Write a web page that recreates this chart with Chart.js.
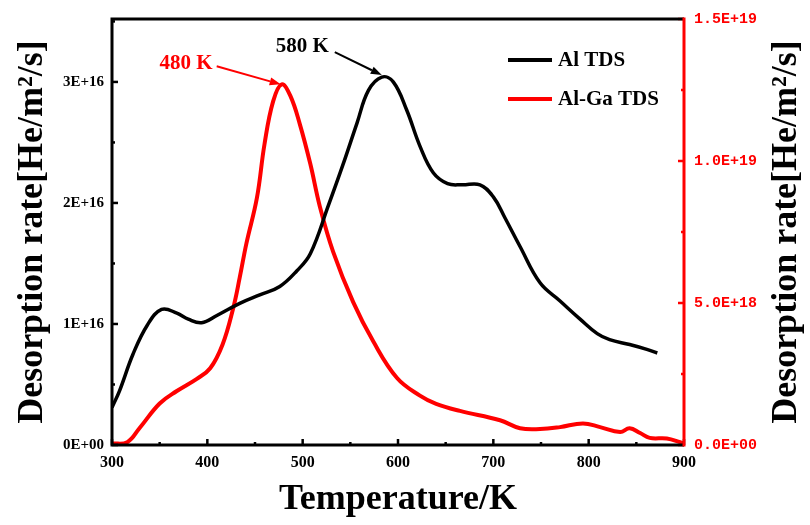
<!DOCTYPE html>
<html>
<head>
<meta charset="utf-8">
<script src="https://cdn.jsdelivr.net/npm/chart.js@4.4.1/dist/chart.umd.min.js"></script>
<style>
  html, body { margin: 0; padding: 0; background: #fff; }
  #wrap { width: 810px; height: 525px; position: relative; }
</style>
</head>
<body>
<div id="wrap"><canvas id="tdsChart"></canvas></div>
<script>
// temperatures (K) and desorption rates
const alTemp = [300, 308, 322, 337, 352, 368, 380, 394, 410, 434, 455, 476, 494, 508, 527, 542, 557, 569, 583, 595, 609, 623, 637, 652, 667, 686, 700, 712, 728, 749, 770, 791, 809, 822, 843, 861, 872];
const alRate = [0.31e16, 0.45e16, 0.75e16, 0.99e16, 1.12e16, 1.09e16, 1.04e16, 1.01e16, 1.07e16, 1.17e16, 1.24e16, 1.31e16, 1.44e16, 1.58e16, 1.98e16, 2.31e16, 2.66e16, 2.93e16, 3.04e16, 3.0e16, 2.77e16, 2.47e16, 2.25e16, 2.16e16, 2.15e16, 2.15e16, 2.05e16, 1.88e16, 1.64e16, 1.34e16, 1.19e16, 1.04e16, 0.92e16, 0.87e16, 0.83e16, 0.79e16, 0.76e16];

const gaTemp = [300, 316, 329, 350, 368, 389, 403, 416, 427, 434, 441, 452, 460, 469, 478, 487, 497, 508, 518, 532, 553, 574, 599, 623, 640, 665, 707, 728, 749, 770, 794, 812, 833, 843, 854, 864, 882, 896, 900];
const gaRate = [0.05e18, 0.1e18, 0.6e18, 1.46e18, 1.9e18, 2.33e18, 2.7e18, 3.54e18, 4.8e18, 5.9e18, 7.1e18, 8.7e18, 10.6e18, 12.1e18, 12.7e18, 12.3e18, 11.3e18, 9.9e18, 8.4e18, 6.8e18, 5.03e18, 3.65e18, 2.36e18, 1.74e18, 1.45e18, 1.2e18, 0.87e18, 0.59e18, 0.56e18, 0.63e18, 0.76e18, 0.63e18, 0.46e18, 0.59e18, 0.42e18, 0.25e18, 0.23e18, 0.1e18, 0.05e18];

const tempTicks = [300, 400, 500, 600, 700, 800, 900];
const leftTicks = [0, 1e16, 2e16, 3e16];
const rightTicks = [0, 5e18, 1e19, 1.5e19];
const seriesNames = ['Al TDS', 'Al-Ga TDS'];
const peakLabels = ['580 K', '480 K'];
const yTitle = 'Desorption rate[He/m²/s]';

const RED = '#ff0000';
const SERIF = '"Liberation Serif", "Times New Roman", serif';

function leftLabel(v) {
    if (v === 0) return '0E+00';
    return Math.round(v / 1e16) + 'E+16';
}

function rightLabel(v) {
    if (v === 0) return '0.0E+00';
    const e = Math.floor(Math.log10(v) + 1e-9);
    return (v / Math.pow(10, e)).toFixed(1) + 'E+' + e;
}

function keepTicks(list) {
    return (scale) => {
        scale.ticks = list.map(v => ({ value: v }));
    };
}

// frame, inward ticks, right title, peak arrows and legend
const decorPlugin = {
    id: 'decor',
    afterDatasetsDraw(chart) {
        const { ctx, chartArea: a, scales } = chart;
        const x = scales.x, yL = scales.y, yR = scales.y1;
        ctx.save();
        ctx.lineCap = 'butt';

        // ticks
        ctx.lineWidth = 2.5;
        ctx.strokeStyle = '#000';
        for (let t = 300; t <= 900; t += 50) {
            const px = x.getPixelForValue(t);
            const len = t % 100 === 0 ? 6 : 3;
            ctx.beginPath(); ctx.moveTo(px, a.bottom); ctx.lineTo(px, a.bottom - len); ctx.stroke();
        }
        for (let v = 0; v <= 3.5e16; v += 0.5e16) {
            const py = yL.getPixelForValue(v);
            const len = Math.round(v / 0.5e16) % 2 === 0 ? 6 : 3;
            ctx.beginPath(); ctx.moveTo(a.left, py); ctx.lineTo(a.left + len, py); ctx.stroke();
        }
        ctx.strokeStyle = RED;
        for (let v = 0; v <= 1.5e19; v += 2.5e18) {
            const py = yR.getPixelForValue(v);
            const len = Math.round(v / 2.5e18) % 2 === 0 ? 6 : 3;
            ctx.beginPath(); ctx.moveTo(a.right, py); ctx.lineTo(a.right - len, py); ctx.stroke();
        }

        // frame
        ctx.lineWidth = 3;
        ctx.strokeStyle = '#000';
        ctx.beginPath();
        ctx.moveTo(a.right, a.top); ctx.lineTo(a.left, a.top);
        ctx.lineTo(a.left, a.bottom); ctx.lineTo(a.right, a.bottom);
        ctx.stroke();
        ctx.strokeStyle = RED;
        ctx.beginPath(); ctx.moveTo(a.right, a.top - 1.5); ctx.lineTo(a.right, a.bottom + 1.5); ctx.stroke();

        // right axis title, reading bottom to top like the left one
        ctx.save();
        ctx.translate(787, (a.top + a.bottom) / 2);
        ctx.rotate(-Math.PI / 2);
        ctx.font = 'bold 36px ' + SERIF;
        ctx.fillStyle = '#000';
        ctx.textAlign = 'center';
        ctx.textBaseline = 'middle';
        ctx.fillText(yTitle, 0, 0);
        ctx.restore();

        // peak arrows
        function arrow(x0, y0, x1, y1, color) {
            const ang = Math.atan2(y1 - y0, x1 - x0);
            const hl = 11, hw = 4;
            ctx.strokeStyle = color; ctx.fillStyle = color; ctx.lineWidth = 2;
            ctx.beginPath(); ctx.moveTo(x0, y0);
            ctx.lineTo(x1 - hl * Math.cos(ang), y1 - hl * Math.sin(ang)); ctx.stroke();
            ctx.beginPath();
            ctx.moveTo(x1, y1);
            ctx.lineTo(x1 - hl * Math.cos(ang) + hw * Math.sin(ang), y1 - hl * Math.sin(ang) - hw * Math.cos(ang));
            ctx.lineTo(x1 - hl * Math.cos(ang) - hw * Math.sin(ang), y1 - hl * Math.sin(ang) + hw * Math.cos(ang));
            ctx.closePath(); ctx.fill();
        }
        const alPx = x.getPixelForValue(583), alPy = yL.getPixelForValue(3.04e16);
        const gaPx = x.getPixelForValue(478), gaPy = yR.getPixelForValue(12.7e18);
        arrow(alPx - 47, alPy - 25, alPx, alPy - 2, '#000');
        arrow(gaPx - 65, gaPy - 18, gaPx - 1, gaPy, RED);

        ctx.font = 'bold 21px ' + SERIF;
        ctx.textBaseline = 'middle';
        ctx.textAlign = 'right';
        ctx.fillStyle = '#000';
        ctx.fillText(peakLabels[0], alPx - 53, alPy - 31);
        ctx.fillStyle = RED;
        ctx.fillText(peakLabels[1], gaPx - 69, gaPy - 21);

        // legend
        const lx = 508, ly = [60, 99], cols = ['#000', RED];
        ctx.textAlign = 'left';
        ctx.lineWidth = 4;
        seriesNames.forEach((name, i) => {
            ctx.strokeStyle = cols[i];
            ctx.beginPath(); ctx.moveTo(lx, ly[i]); ctx.lineTo(lx + 44, ly[i]); ctx.stroke();
            ctx.fillStyle = '#000';
            ctx.fillText(name, lx + 50, ly[i] + 1);
        });
        ctx.restore();
    }
};

const ctx = document.getElementById('tdsChart').getContext('2d');

new Chart(ctx, {
    type: 'line',
    data: {
        datasets: [
            {
                label: seriesNames[0],
                data: alTemp.map((t, i) => ({ x: t, y: alRate[i] })),
                borderColor: '#000',
                borderWidth: 3.5,
                pointRadius: 0,
                tension: 0.4,
                yAxisID: 'y'
            },
            {
                label: seriesNames[1],
                data: gaTemp.map((t, i) => ({ x: t, y: gaRate[i] })),
                borderColor: RED,
                borderWidth: 4,
                pointRadius: 0,
                tension: 0.4,
                yAxisID: 'y1'
            }
        ]
    },
    options: {
        responsive: true,
        maintainAspectRatio: false,
        animation: false,
        layout: { padding: { top: 13, left: 0, right: 0, bottom: 0 } },
        plugins: {
            legend: { display: false },
            tooltip: { enabled: false }
        },
        scales: {
            x: {
                type: 'linear',
                min: 300,
                max: 900,
                afterBuildTicks: keepTicks(tempTicks),
                afterFit: (s) => { s.height = 80; },
                grid: { display: false, drawTicks: false },
                border: { display: false },
                ticks: { padding: 8, color: '#000', font: { family: SERIF, size: 16, weight: 'bold' }, maxRotation: 0 },
                title: {
                    display: true,
                    text: 'Temperature/K',
                    color: '#000',
                    font: { family: SERIF, size: 36, weight: 'bold' },
                    padding: { top: 0, bottom: 4 }
                }
            },
            y: {
                type: 'linear',
                position: 'left',
                min: 0,
                max: 3.52e16,
                afterBuildTicks: keepTicks(leftTicks),
                afterFit: (s) => { s.width = 112; },
                grid: { display: false, drawTicks: false },
                border: { display: false },
                ticks: { padding: 8, color: '#000', font: { family: SERIF, size: 15, weight: 'bold' }, callback: leftLabel },
                title: {
                    display: true,
                    text: yTitle,
                    color: '#000',
                    font: { family: SERIF, size: 36, weight: 'bold' },
                    padding: { top: 11, bottom: 0 }
                }
            },
            y1: {
                type: 'linear',
                position: 'right',
                min: 0,
                max: 1.5e19,
                afterBuildTicks: keepTicks(rightTicks),
                afterFit: (s) => { s.width = 126; },
                grid: { display: false, drawTicks: false },
                border: { display: false },
                ticks: { padding: 10, color: RED, font: { family: '"Liberation Mono", monospace', size: 15, weight: 'bold' }, callback: rightLabel },
                title: { display: false }
            }
        }
    },
    plugins: [decorPlugin]
});
</script>
</body>
</html>
